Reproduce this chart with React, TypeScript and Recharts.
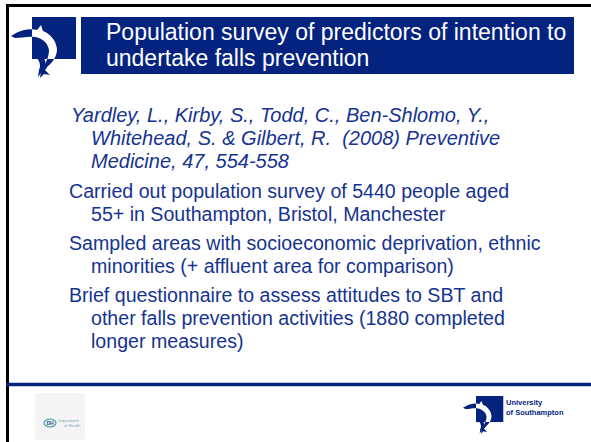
import { Surface, Layer, Text, Rectangle } from 'recharts'

const titleLines = ['Population survey of predictors of intention to', 'undertake falls prevention']

const citationLines = [
  'Yardley, L., Kirby, S., Todd, C., Ben-Shlomo, Y.,',
  'Whitehead, S. & Gilbert, R.\u00a0 (2008) Preventive',
  'Medicine, 47, 554-558',
]

const bullets = [
  ['Carried out population survey of 5440 people aged', '55+ in Southampton, Bristol, Manchester'],
  ['Sampled areas with socioeconomic deprivation, ethnic', 'minorities (+ affluent area for comparison)'],
  [
    'Brief questionnaire to assess attitudes to SBT and',
    'other falls prevention activities (1880 completed',
    'longer measures)',
  ],
]

const footerText = ['University', 'of Southampton']

const NAVY = '#04237f'
const TEXT = '#16338f'
const FONT = '"Liberation Sans", Arial, Helvetica, sans-serif'

const dolphinA =
  'M11,36 L16,33 C22,30 30,28 37,30 L41,25 L43,31 C51,34 56,41 57,49 C57,56 53,62 48,66 L45,70 L50,75 L44,74 L40,78 L41,71 C45,64 49,58 49,50 C48,43 42,38 35,37 C28,36 21,38 15,38 Z'
const dolphinB =
  'M33,47 C37,52 42,56 45,60 C46,64 45,68 43,71 L46,74 L41,73 L38,77 L39,70 C41,66 40,62 37,58 C35,55 33,51 33,47 Z'

function Logo({ id }: { id: string }) {
  return (
    <Layer>
      <defs>
        <clipPath id={id}>
          <rect x={32} y={17} width={44} height={42} />
        </clipPath>
      </defs>
      <rect x={32} y={17} width={44} height={42} fill={NAVY} />
      <path d={dolphinA} fill={NAVY} />
      <path d={dolphinB} fill={NAVY} />
      <g clipPath={`url(#${id})`}>
        <path d={dolphinA} fill="#ffffff" />
        <path d={dolphinB} fill={NAVY} />
      </g>
    </Layer>
  )
}

export default function App() {
  let y = 122
  const bodyRows: { text: string; x: number; y: number; italic: boolean }[] = []
  citationLines.forEach((t, i) => {
    bodyRows.push({ text: t, x: i === 0 ? 71 : 91, y, italic: true })
    y += 23
  })
  y += 7
  bullets.forEach((lines) => {
    lines.forEach((t, i) => {
      bodyRows.push({ text: t, x: i === 0 ? 69 : 91, y, italic: false })
      y += 23
    })
    y += 6
  })

  return (
    <div style={{ position: 'absolute', left: 0, top: 0, width: 591, height: 442, background: '#fff' }}>
      <Surface width={591} height={442} viewBox={{ x: 0, y: 0, width: 591, height: 442 }}>
        <rect x={7.5} y={5.5} width={620} height={460} fill="none" stroke="#000" strokeWidth={3} />

        <Logo id="topClip" />
        <Rectangle x={81} y={17} width={493} height={57} fill={NAVY} />
        {titleLines.map((t, i) => (
          <Text key={t} x={106} y={40 + i * 26} fill="#ffffff" fontSize={23} fontFamily={FONT}>
            {t}
          </Text>
        ))}

        {bodyRows.map((r) => (
          <Text
            key={r.text}
            x={r.x}
            y={r.y}
            fill={TEXT}
            fontSize={r.italic ? 20 : 19.6}
            fontStyle={r.italic ? 'italic' : 'normal'}
            fontFamily={FONT}
          >
            {r.text}
          </Text>
        ))}

        <line x1={6} x2={591} y1={384.5} y2={384.5} stroke={NAVY} strokeWidth={3.5} />

        <rect x={35} y={393} width={50} height={47} fill="#f3f4f3" />
        <ellipse cx={50} cy={423} rx={6} ry={4} fill="none" stroke="#3aa6a0" strokeWidth={1.2} />
        <Text x={50} y={425} textAnchor="middle" fontSize={5} fill="#2c4f8f" fontFamily={FONT} fontWeight="bold">
          DH
        </Text>
        <Text x={58} y={422} fontSize={4} fill="#7aa8b0" fontFamily={FONT}>
          Department
        </Text>
        <Text x={64} y={427} fontSize={4} fill="#7aa8b0" fontFamily={FONT}>
          of Health
        </Text>

        <g transform={`translate(${476 - 32 * 0.62}, ${396 - 17 * 0.62}) scale(0.62)`}>
          <Logo id="footClip" />
        </g>
        {footerText.map((t, i) => (
          <Text key={t} x={506} y={405 + i * 10} fontSize={7.5} fontWeight="bold" fill={NAVY} fontFamily={FONT}>
            {t}
          </Text>
        ))}
      </Surface>
    </div>
  )
}
